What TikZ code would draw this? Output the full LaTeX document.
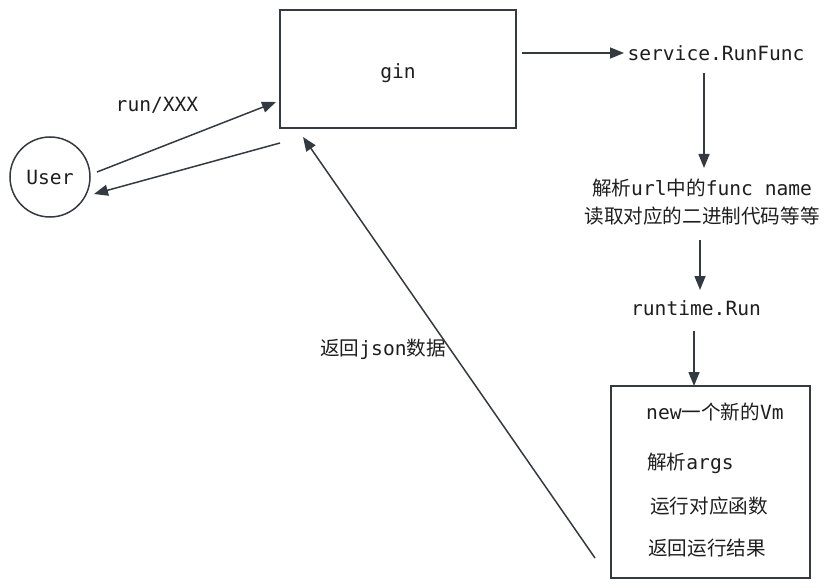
\documentclass[tikz,border=0pt]{standalone}
\usepackage{fontspec}
\setmainfont{DejaVu Sans Mono}
\newfontfamily\cjk{Noto Sans CJK SC}
\usetikzlibrary{arrows.meta}
\definecolor{ink}{HTML}{343A40}
\definecolor{txt}{HTML}{1E1E1E}
\tikzset{
  arr/.style={-{Triangle[length=14pt,width=11pt]}, line width=1.5pt, draw=ink},
  box/.style={draw=ink, line width=1.5pt},
  lbl/.style={text=txt, font=\fontsize{19.6}{28}\selectfont, inner sep=0pt}
}
\begin{document}
\begin{tikzpicture}[x=1pt,y=-1pt]
\useasboundingbox (0,0) rectangle (832,588);
% boxes
\draw[box] (280,10) rectangle (516,128);
\node[lbl] (gin) at (398,73) {gin};
\node[box, circle, minimum size=80pt, inner sep=0pt, text=txt,
  font=\fontsize{19.6}{24}\selectfont] (user) at (50,177) {User};
\draw[box] (611,386) rectangle (810,578);
% texts
\node[lbl] (svc) at (716,53) {service.RunFunc};
\node[lbl, align=center] (parse) at (702,202)
  {{\cjk 解析}url{\cjk 中的}func name\\{\cjk 读取对应的二进制代码等等}};
\node[lbl] (rt) at (696,308) {runtime.Run};
\node[lbl, anchor=west] (newvm) at (646,412) {new{\cjk 一个新的}Vm};
\node[lbl, anchor=west] (args) at (647,463) {{\cjk 解析}args};
\node[lbl, anchor=west] (call) at (650,506) {\cjk 运行对应函数};
\node[lbl, anchor=west] (ret) at (648,548) {\cjk 返回运行结果};
\node[lbl] (runlbl) at (157,105) {run/XXX};
\node[lbl] (jsonlbl) at (383,349) {{\cjk 返回}json{\cjk 数据}};
% connector ends
\coordinate (u1) at (97,172);
\coordinate (g1) at (276,102);
\coordinate (g2) at (280,143);
\coordinate (u2) at (94,194);
\coordinate (g3) at (522,53);
\coordinate (s1) at (624,53);
\coordinate (s2) at (704,73);
\coordinate (p1) at (704,168);
\coordinate (p2) at (700,240);
\coordinate (r1) at (700,290);
\coordinate (r2) at (694,331);
\coordinate (vm) at (694,386);
\coordinate (v1) at (595,558);
\coordinate (g4) at (303,137);
% arrows
\draw[arr] (u1) -- (g1);
\draw[arr] (g2) -- (u2);
\draw[arr] (g3) -- (s1);
\draw[arr] (s2) -- (p1);
\draw[arr] (p2) -- (r1);
\draw[arr] (r2) -- (vm);
\draw[arr] (v1) -- (g4);
\end{tikzpicture}
\end{document}
